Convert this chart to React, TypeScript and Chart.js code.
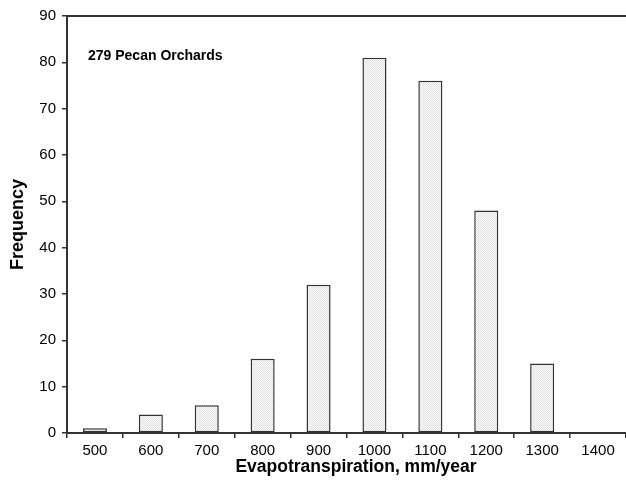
import React, { useEffect, useRef } from "react";
import { Chart, registerables } from "chart.js";

Chart.register(...registerables);

const categories = ["500", "600", "700", "800", "900", "1000", "1100", "1200", "1300", "1400"];
const frequencies = [1, 4, 6, 16, 32, 81, 76, 48, 15, 0];
const yTicks = [0, 10, 20, 30, 40, 50, 60, 70, 80, 90];
const annotation = "279 Pecan Orchards";
const xTitle = "Evapotranspiration, mm/year";
const yTitle = "Frequency";

const FONT = "'Liberation Sans', Arial, sans-serif";
const AXIS = "#333333";

function makePattern(): CanvasPattern | string {
  const c = document.createElement("canvas");
  c.width = 2;
  c.height = 2;
  const g = c.getContext("2d");
  if (!g) return "#eeeeee";
  g.fillStyle = "#fcfcfc";
  g.fillRect(0, 0, 2, 2);
  g.fillStyle = "#e0e0e0";
  g.fillRect(0, 0, 1, 1);
  g.fillRect(1, 1, 1, 1);
  const p = g.createPattern(c, "repeat");
  return p || "#eeeeee";
}

export default function App() {
  const ref = useRef<HTMLCanvasElement | null>(null);

  useEffect(() => {
    if (!ref.current) return;
    const frame = {
      id: "frame",
      afterDatasetsDraw(chart: any) {
        const { ctx, chartArea } = chart;
        ctx.save();
        ctx.strokeStyle = AXIS;
        ctx.lineWidth = 2;
        ctx.beginPath();
        ctx.moveTo(chartArea.left, chartArea.top);
        ctx.lineTo(chart.width, chartArea.top);
        ctx.stroke();
        ctx.fillStyle = "#000";
        ctx.font = `bold 14px ${FONT}`;
        ctx.textAlign = "left";
        ctx.textBaseline = "middle";
        ctx.fillText(annotation, 88, 56);
        ctx.font = `bold 17.5px ${FONT}`;
        ctx.textAlign = "center";
        ctx.fillText(xTitle, 356, 467);
        ctx.restore();
      },
    };
    const chart = new Chart(ref.current, {
      type: "bar",
      data: {
        labels: categories,
        datasets: [
          {
            data: frequencies,
            backgroundColor: makePattern() as any,
            borderColor: AXIS,
            borderWidth: 1.5,
            borderSkipped: false,
            categoryPercentage: 1,
            barPercentage: 0.43,
          },
        ],
      },
      options: {
        responsive: false,
        animation: false,
        layout: { padding: { top: 16, right: 0, left: 0, bottom: 0 } },
        plugins: { legend: { display: false }, tooltip: { enabled: false } },
        scales: {
          x: {
            offset: true,
            grid: {
              offset: true,
              drawOnChartArea: false,
              drawTicks: true,
              tickLength: 5,
              color: AXIS,
              lineWidth: 1.5,
            },
            border: { display: true, color: AXIS, width: 2 },
            ticks: { color: "#000", font: { family: FONT, size: 15 }, padding: 4, maxRotation: 0 },
            title: { display: false },
            afterFit(scale: any) {
              scale.height = 50;
            },
          },
          y: {
            min: 0,
            max: 90,
            afterBuildTicks(scale: any) {
              scale.ticks = yTicks.map((v) => ({ value: v }));
            },
            grid: {
              drawOnChartArea: false,
              drawTicks: true,
              tickLength: 5,
              color: AXIS,
              lineWidth: 1.5,
            },
            border: { display: true, color: AXIS, width: 2 },
            ticks: { color: "#000", font: { family: FONT, size: 15 }, padding: 6 },
            title: {
              display: true,
              text: yTitle,
              color: "#000",
              font: { family: FONT, size: 18, weight: "bold" },
              padding: { top: 7, bottom: 0 },
            },
            afterFit(scale: any) {
              scale.width = 67;
            },
          },
        },
      },
      plugins: [frame],
    });
    return () => chart.destroy();
  }, []);

  return (
    <div style={{ position: "fixed", left: 0, top: 0, width: 626, height: 483, background: "#fff" }}>
      <canvas ref={ref} width={626} height={483} />
    </div>
  );
}
